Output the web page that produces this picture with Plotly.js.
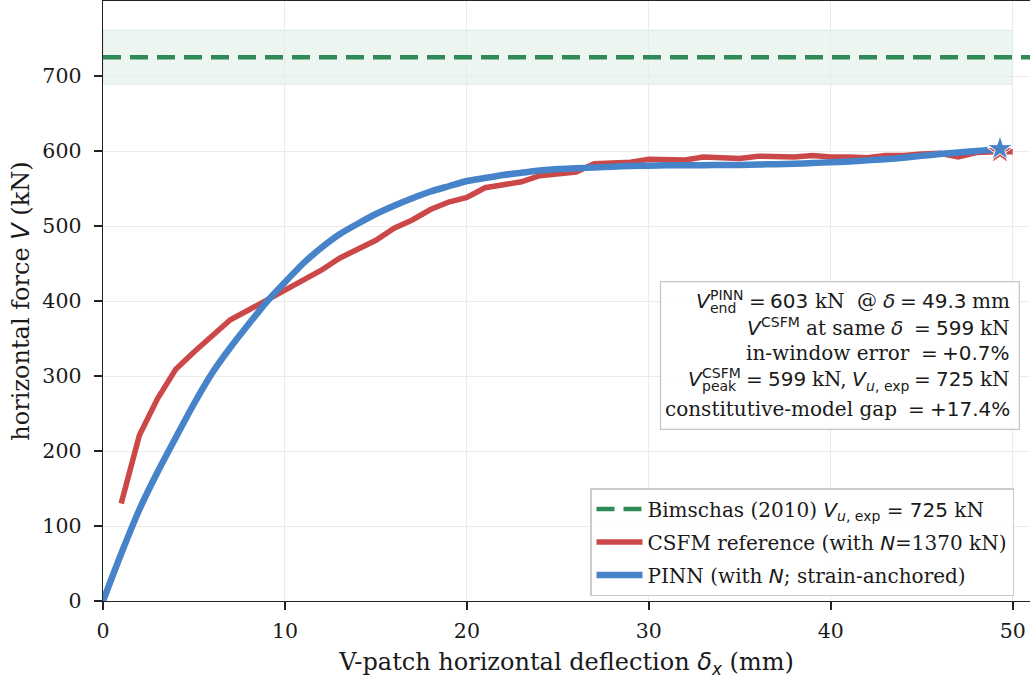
<!DOCTYPE html>
<html>
<head>
<meta charset="utf-8">
<script src="https://cdn.plot.ly/plotly-3.0.1.min.js"></script>
<style>html,body{margin:0;padding:0;background:#fff;}#chart{width:1030px;height:682px;}</style>
</head>
<body>
<div id="chart"></div>
<script>
// ---------------- data ----------------
const csfmDelta = [1,2,3,4,5,6,7,8,9,10,11,12,13,14,15,16,17,18,19,20,21,22,23,24,25,26,27,28,29,30,31,32,33,34,35,36,37,38,39,40,41,42,43,44,45,46,47,48,49,50];
const csfmV = [130,221,270,309,332,353,375,388,401,416,429,441,457,469,481,497,508,522,532,538,551,555,559,567,569,572,583,584,585,589,588,588,592,591,590,593,592,592,594,592,592,591,594,594,596,597,592,598,599,599];
const pinnDelta = [0,1,2,3,4,5,6,7,8,9,10,11,12,13,14,15,16,17,18,19,20,21,22,23,24,25,26,27,28,29,30,31,32,33,34,35,36,37,38,39,40,41,42,43,44,45,46,47,48,49,49.3];
const pinnV = [0,63,122,172,218,263,304,338,369,399,425,450,471,489,503,516,527,537,546,553,560,564,568,571,574,576,577,578,579,580,580.5,581,581,581,581.5,581.5,582,582.5,583,584,585,586,587.5,589,591,593.5,596,598,600,602,603];
const vExp = 725;
const bandLow = 689, bandHigh = 761;
const endDelta = 49.3, endPinn = 603, endCsfm = 599;
const xTicks = [0,10,20,30,40,50];
const yTicks = [0,100,200,300,400,500,600,700];

// ---------------- style ----------------
const X_MAX = 50.95, Y_MAX = 800;
const L = 103, T = 1, B = 81, W = 1030, H = 682;
const PW = W - L, PH = H - T - B;
const SERIF = 'DejaVu Serif', SANS = 'DejaVu Sans';
const TXT = '#1a1a1a';
const RED = '#cc4747', BLUE = '#4683c9', GREEN = '#2e8b57';

function px2paperX(px){ return (px - L) / PW; }
function px2paperY(py){ return (T + PH - py) / PH; }

const cv = document.createElement('canvas').getContext('2d');
function measure(t, fam, it, sz){
  cv.font = (it ? 'italic ' : '') + sz + 'px "' + fam + '"';
  return cv.measureText(t).width;
}
function ann(t, fam, it, sz, xPx, basePx){
  const cy = basePx - 0.346 * sz;
  return {xref:'paper', yref:'paper', x:px2paperX(xPx), y:px2paperY(cy), xanchor:'left', yanchor:'middle',
    text: it ? '<i>' + t + '</i>' : t, showarrow:false, borderpad:0, borderwidth:0,
    font:{family:fam, size:sz, color:TXT}};
}
function layoutLine(segs, rightPx, basePx, size){
  let x = rightPx; const out = [];
  for (let i = segs.length - 1; i >= 0; i--){
    const s = segs[i];
    if (s.gap !== undefined){ x -= s.gap * size; continue; }
    if (s.stack){
      const ss = size * 0.7;
      const w = Math.max(s.sup ? measure(s.sup, SANS, false, ss) : 0, s.sub ? measure(s.sub, SANS, false, ss) : 0);
      x -= w;
      if (s.sup) out.push(ann(s.sup, SANS, false, ss, x, basePx - size * 0.42));
      if (s.sub) out.push(ann(s.sub, SANS, false, ss, x, basePx + size * 0.24));
      continue;
    }
    const sz = s.sz || size;
    const fam = s.f === 'serif' ? SERIF : SANS;
    x -= measure(s.t, fam, s.it, sz);
    out.push(ann(s.t, fam, s.it, sz, x, basePx + (s.dy || 0) * size));
  }
  return out;
}
const FS = 20;
const g = v => ({gap:v});
const lines = [
  [[{t:'V',it:true},{stack:true,sup:'PINN',sub:'end'},g(0.25),{t:'='},g(0.25),{t:'603'},g(0.3),{t:'kN',f:'serif'},g(0.62),{t:'@',f:'serif'},g(0.3),{t:'δ',it:true},g(0.25),{t:'='},g(0.25),{t:'49.3'},g(0.3),{t:'mm',f:'serif'}], 308],
  [[{t:'V',it:true},{stack:true,sup:'CSFM'},g(0.3),{t:'at same',f:'serif'},g(0.3),{t:'δ',it:true},g(0.55),{t:'='},g(0.25),{t:'599'},g(0.3),{t:'kN',f:'serif'}], 335],
  [[{t:'in-window error',f:'serif'},g(0.55),{t:'='},g(0.25),{t:'+0.7%'}], 360],
  [[{t:'V',it:true},{stack:true,sup:'CSFM',sub:'peak'},g(0.25),{t:'='},g(0.25),{t:'599'},g(0.3),{t:'kN,',f:'serif'},g(0.3),{t:'V',it:true},{t:'u',it:true,sz:FS*0.7,dy:0.22},{t:', exp',sz:FS*0.7,dy:0.22},g(0.25),{t:'='},g(0.25),{t:'725'},g(0.3),{t:'kN',f:'serif'}], 386],
  [[{t:'constitutive-model gap',f:'serif'},g(0.55),{t:'='},g(0.25),{t:'+17.4%'}], 416]
];
let annotations = [];
lines.forEach(([segs, base]) => { annotations = annotations.concat(layoutLine(segs, 1010, base, FS)); });

const shapes = [
  {type:'rect', xref:'x', yref:'y', x0:0, x1:50, y0:bandLow, y1:bandHigh, fillcolor:'rgba(46,139,87,0.09)', line:{color:'rgba(46,139,87,0.14)', width:1}, layer:'below'},
  {type:'rect', xref:'paper', yref:'paper', x0:px2paperX(660.5), x1:px2paperX(1019.3), y0:px2paperY(429.3), y1:px2paperY(281.7), fillcolor:'rgba(255,255,255,0.85)', line:{color:'#c4c4c4', width:1.2}, layer:'above'}
];

const sansSpan = s => '<span style="font-family:DejaVu Sans">' + s + '</span>';
const traces = [
  {x:[0, X_MAX], y:[vExp, vExp], mode:'lines', line:{color:GREEN, width:4.5, dash:'18px,9px'}, name:'Bimschas (2010) ' + sansSpan('<i>V</i><sub><i>u</i>, exp</sub> = 725') + ' kN', legendgroup:'a', hoverinfo:'skip'},
  {x:csfmDelta, y:csfmV, mode:'lines', line:{color:RED, width:5.5}, name:'CSFM reference (with ' + sansSpan('<i>N</i>') + '=1370 kN)', legendgroup:'b'},
  {x:pinnDelta, y:pinnV, mode:'lines', line:{color:BLUE, width:6.5, shape:'spline', smoothing:0.6}, name:'PINN (with ' + sansSpan('<i>N</i>') + '; strain-anchored)', legendgroup:'c'},
  {x:[endDelta], y:[endCsfm], mode:'markers', marker:{symbol:'star', size:19, color:RED, line:{color:'#fff', width:1}}, showlegend:false},
  {x:[endDelta], y:[endPinn], mode:'markers', marker:{symbol:'star', size:19, color:BLUE, line:{color:'#fff', width:1}}, showlegend:false}
];

const axisCommon = {showline:true, mirror:true, linecolor:'#222', linewidth:1.4, ticks:'outside', ticklen:8, tickwidth:1.6, tickcolor:'#222',
  showgrid:true, gridcolor:'#ebebeb', gridwidth:1, zeroline:false, tickfont:{family:SERIF, size:20.5, color:TXT}};

const layout = {
  width:W, height:H, margin:{l:L, r:W - L - PW, t:T, b:B, pad:0},
  paper_bgcolor:'#fff', plot_bgcolor:'#fff',
  xaxis:Object.assign({}, axisCommon, {range:[0, X_MAX], tickvals:xTicks, ticktext:xTicks.map(String), ticklabelstandoff:3,
    title:{text:'V-patch horizontal deflection ' + sansSpan('<i>δ</i><sub><i>x</i></sub>') + ' (mm)', font:{family:SERIF, size:24, color:TXT}, standoff:11}}),
  yaxis:Object.assign({}, axisCommon, {range:[0, Y_MAX], tickvals:yTicks, ticktext:yTicks.map(String), ticklabelstandoff:8,
    title:{text:'horizontal force ' + sansSpan('<i>V</i>') + ' (kN)', font:{family:SERIF, size:24, color:TXT}, standoff:6}}),
  showlegend:true,
  legend:{x:px2paperX(590), y:px2paperY(488), xanchor:'left', yanchor:'top', bgcolor:'rgba(255,255,255,0.9)', bordercolor:'#cccccc', borderwidth:1.5,
    font:{family:SERIF, size:20, color:TXT}, tracegroupgap:4, itemwidth:46, traceorder:'grouped'},
  shapes:shapes, annotations:annotations
};
Plotly.newPlot('chart', traces, layout, {displayModeBar:false, staticPlot:true});
</script>
</body>
</html>
